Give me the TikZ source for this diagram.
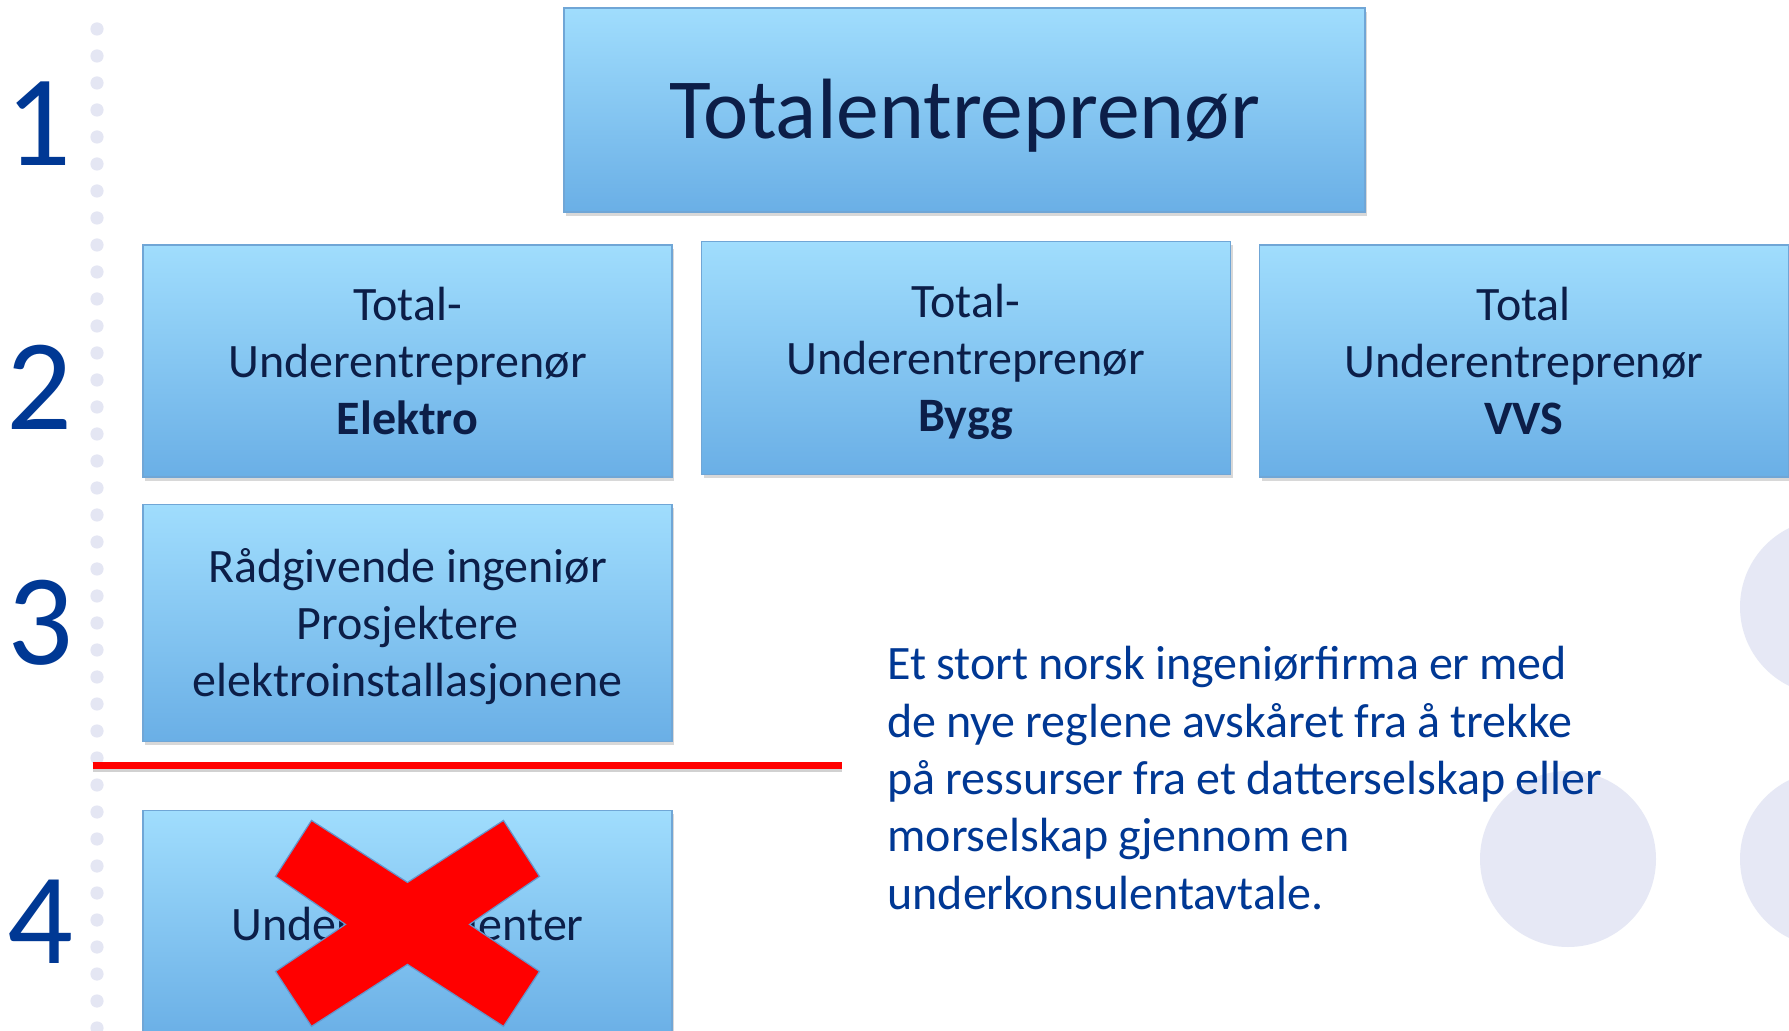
\documentclass[tikz,border=0pt]{standalone}
\usepackage{fontspec}
\setmainfont{Carlito}
\usetikzlibrary{positioning,shadows}

\definecolor{boxtop}{RGB}{160,221,253}
\definecolor{boxbot}{RGB}{106,175,230}
\definecolor{boxline}{RGB}{112,166,214}
\definecolor{boxtext}{RGB}{12,30,72}
\definecolor{numblue}{RGB}{0,56,148}
\definecolor{dotgray}{RGB}{228,230,243}
\definecolor{circgray}{RGB}{230,232,245}
\definecolor{xline}{RGB}{100,150,205}

\tikzset{
  boks/.style={draw=boxline, line width=0.6pt, top color=boxtop, bottom color=boxbot,
    minimum width=264.5pt, text=boxtext, align=center, inner sep=0pt,
    font=\fontsize{24pt}{28.5pt}\selectfont,
    drop shadow={shadow xshift=1.2pt, shadow yshift=-1.8pt, opacity=0.3}},
  nummer/.style={text=numblue, font=\fontsize{65pt}{70pt}\selectfont, anchor=base, inner sep=0pt}
}

\begin{document}
\begin{tikzpicture}[x=0.5pt, y=-0.5pt]

\fill[white] (0,0) rectangle (1789,1031);
\useasboundingbox (0,0) rectangle (1789,1031);

%background circles and dotted rule
\fill[circgray] (1568,859) circle (44pt);
\fill[circgray] (1828,607) circle (44pt);
\fill[circgray] (1828,859) circle (44pt);
\foreach \k in {0,...,37}
  \fill[dotgray] (97,{29+27*\k}) circle (3.3pt);

\node[nummer] (n1) at (38,166) {1};
\node[nummer] (n2) at (39,430) {2};
\node[nummer] (n3) at (40,665) {3};
\node[nummer] (n4) at (40,963) {4};

\node[boks, minimum width=400.5pt, minimum height=102pt, text height=37.5pt, text depth=8.5pt,
  font=\fontsize{42.8pt}{50pt}\selectfont] (tot) at (964.5,110) {Totalentreprenør};

\node[boks, minimum height=116pt] (elektro) at (407.5,361) {Total-\\Underentreprenør\\\textbf{Elektro}};
\node[boks, minimum height=116.5pt, text depth=0pt, right=14pt of elektro, yshift=1.5pt] (bygg) {Total-\\Underentreprenør\\\textbf{Bygg}};
\node[boks, minimum height=116pt, right=14pt of bygg, yshift=-1.5pt] (vvs) {Total\\Underentreprenør\\\textbf{VVS}};

\node[boks, minimum height=118.5pt, text depth=0pt, below=13pt of elektro] (radg) {Rådgivende ingeniør\\Prosjektere\\elektroinstallasjonene};
\node[boks, minimum height=114pt, below=34pt of radg] (under) {Underkonsulenter};

%the cut between level 3 and 4
\coordinate (strekv) at (93,765.5);
\coordinate (strekh) at (842,765.5);
\draw[black!18, line width=3.8pt] ([yshift=-1.5pt]strekv) -- ([yshift=-1.5pt]strekh);
\draw[red, line width=3.8pt] (strekv) -- (strekh);

\filldraw[fill=red, draw=xline, line width=0.6pt, shift={(under.center)}]
  (0,-42) -- (96,-104) -- (132,-48) -- (62,0) -- (132,47) -- (96,102) -- (0,40)
  -- (-96,102) -- (-132,47) -- (-62,0) -- (-132,-48) -- (-96,-104) -- cycle;

\node[anchor=base west, inner sep=0pt, text width=390pt, align=left, text=numblue,
  font=\fontsize{24pt}{28.65pt}\selectfont,
  execute at begin node={\spaceskip=4.95pt\relax}] (tekst) at (887,680)
  {Et stort norsk ingeniørfirma er med\\de nye reglene avskåret fra å trekke\\på ressurser fra et datterselskap eller\\morselskap gjennom en\\underkonsulentavtale.};

\end{tikzpicture}
\end{document}
